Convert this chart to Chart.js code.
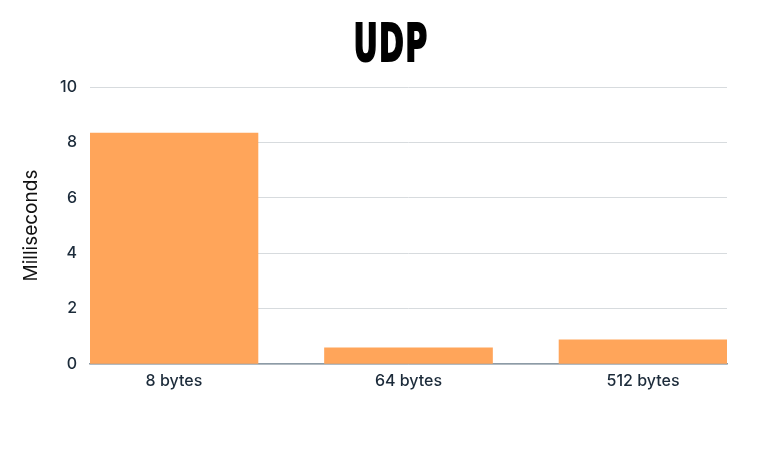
<!DOCTYPE html>
<html>
<head>
<meta charset="utf-8">
<script src="https://cdn.jsdelivr.net/npm/chart.js@4/dist/chart.umd.min.js"></script>
<style>
  html,body{margin:0;padding:0;background:#fff;}
  #wrap{position:relative;width:782px;height:450px;}
  #title{position:absolute;left:0;top:12px;width:782px;text-align:center;
    font-family:"DejaVu Sans Condensed","Liberation Sans Narrow",sans-serif;font-weight:bold;
    font-size:52px;line-height:62px;color:#000;transform:scaleX(0.64);
    -webkit-text-stroke:2px #000;letter-spacing:2px;}
</style>
</head>
<body>
<div id="wrap">
  <div id="title">UDP</div>
  <canvas id="c" width="782" height="450"></canvas>
</div>
<script>
const categories = ['8 bytes','64 bytes','512 bytes'];
const values     = [8.34, 0.58, 0.87];
const yTicks     = [0,2,4,6,8,10];

const tickColor = '#1c2b3a';

new Chart(document.getElementById('c'),{
  type:'bar',
  data:{datasets:[{
    label:'UDP',
    data:values.map((v,i)=>({x:i,y:v})),
    backgroundColor:'#ffa55a',
    borderWidth:0,
    barThickness:168
  }]},
  options:{
    responsive:false,animation:false,
    layout:{padding:{top:87,right:55,left:20,bottom:0}},
    plugins:{legend:{display:false},tooltip:{enabled:false},title:{display:false}},
    scales:{
      x:{type:'linear',min:-0.358,max:2.358,offset:false,
        afterBuildTicks:s=>{s.ticks=categories.map((_,i)=>({value:i}));},
        afterFit:s=>{s.height=86;},
        grid:{display:false,drawTicks:false},
        border:{display:true,color:'#8d9ba6',width:1.5},
        ticks:{padding:8,color:tickColor,font:{family:'Inter',size:16,weight:'500'},
          callback:v=>categories[v]}
      },
      y:{min:0,max:10,
        afterBuildTicks:s=>{s.ticks=yTicks.map(v=>({value:v}));},
        afterFit:s=>{s.width=70;},
        grid:{color:'#d7dbde',lineWidth:1,drawTicks:false},
        border:{display:false},
        ticks:{padding:13,color:tickColor,font:{family:'Inter',size:16,weight:'500'}},
        title:{display:true,text:'Milliseconds',color:'#111',font:{family:'Inter',size:19},padding:{top:0,bottom:0}}
      }
    }
  }
});
</script>
</body>
</html>
